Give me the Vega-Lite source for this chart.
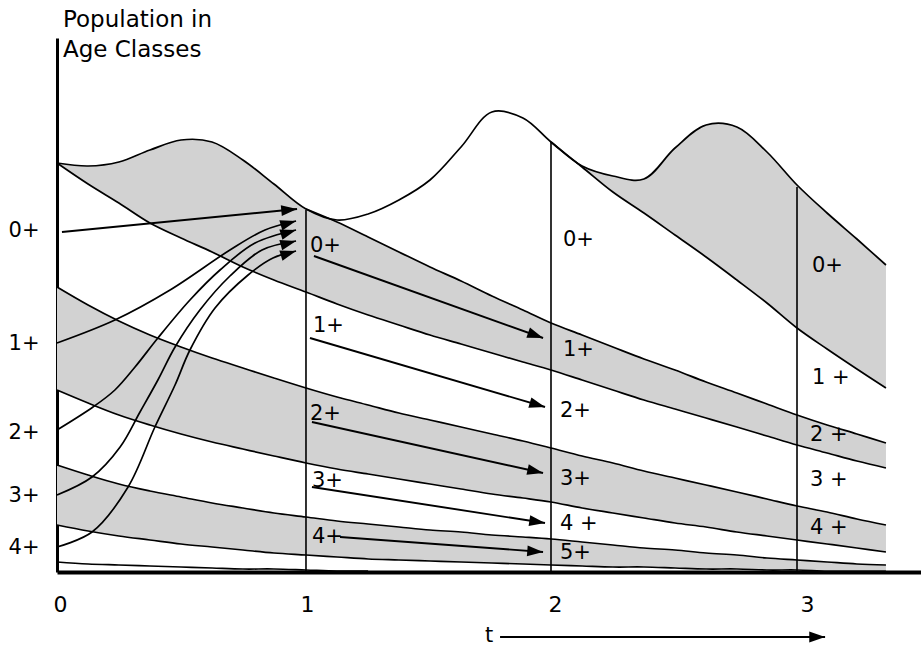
{
  "$schema": "https://vega.github.io/schema/vega-lite/v6.json",
  "width": 864,
  "height": 534,
  "autosize": {"type": "none"},
  "padding": {"left": 57, "top": 38, "right": 0, "bottom": 76},
  "background": "white",
  "config": {"view": {"stroke": null}, "font": "DejaVu Sans"},
  "datasets": {
    "grid": [
      {"t": 0, "env": 409, "n0": null, "n1": null, "k0": 409, "k1": 285, "k2": 182, "k3": 107, "k4": 47, "k5": 10},
      {"t": 0.125, "env": 406, "n0": null, "n1": null, "k0": 388, "k1": 267, "k2": 169, "k3": 97, "k4": 41, "k5": 8},
      {"t": 0.249, "env": 410, "n0": null, "n1": null, "k0": 369, "k1": 251, "k2": 157, "k3": 88, "k4": 36, "k5": 7},
      {"t": 0.374, "env": 422, "n0": null, "n1": null, "k0": 349, "k1": 237, "k2": 147, "k3": 81, "k4": 32, "k5": 6},
      {"t": 0.499, "env": 432, "n0": null, "n1": null, "k0": 334, "k1": 225, "k2": 138, "k3": 75, "k4": 28, "k5": 5},
      {"t": 0.624, "env": 430, "n0": null, "n1": null, "k0": 320, "k1": 214, "k2": 130, "k3": 69, "k4": 25, "k5": 4},
      {"t": 0.748, "env": 412, "n0": null, "n1": null, "k0": 305, "k1": 204, "k2": 123, "k3": 64, "k4": 22, "k5": 3},
      {"t": 0.873, "env": 388, "n0": null, "n1": null, "k0": 292, "k1": 194, "k2": 116, "k3": 59, "k4": 19, "k5": 3},
      {"t": 1.002, "env": 363, "n0": 363, "n1": null, "k0": 280, "k1": 184, "k2": 109, "k3": 55, "k4": 17, "k5": 2},
      {"t": 1.127, "env": 352, "n0": 350, "n1": null, "k0": 268, "k1": 175, "k2": 103, "k3": 51, "k4": 15, "k5": 1},
      {"t": 1.252, "env": 358, "n0": 335, "n1": null, "k0": 257, "k1": 167, "k2": 98, "k3": 48, "k4": 13, "k5": 1},
      {"t": 1.376, "env": 372, "n0": 320, "n1": null, "k0": 247, "k1": 159, "k2": 93, "k3": 45, "k4": 12, "k5": null},
      {"t": 1.501, "env": 392, "n0": 305, "n1": null, "k0": 237, "k1": 152, "k2": 88, "k3": 42, "k4": 11, "k5": null},
      {"t": 1.626, "env": 425, "n0": 291, "n1": null, "k0": 228, "k1": 145, "k2": 83, "k3": 40, "k4": 10, "k5": null},
      {"t": 1.75, "env": 460, "n0": 276, "n1": null, "k0": 219, "k1": 138, "k2": 78, "k3": 37, "k4": 9, "k5": null},
      {"t": 1.875, "env": 454, "n0": 262, "n1": null, "k0": 210, "k1": 131, "k2": 74, "k3": 35, "k4": 8, "k5": null},
      {"t": 1.988, "env": 430, "n0": 249, "n1": 430, "k0": 202, "k1": 124, "k2": 70, "k3": 33, "k4": 7, "k5": null},
      {"t": 2.113, "env": 406, "n0": 237, "n1": 405, "k0": 192, "k1": 116, "k2": 64, "k3": 30, "k4": 6, "k5": null},
      {"t": 2.237, "env": 396, "n0": 225, "n1": 380, "k0": 182, "k1": 109, "k2": 59, "k3": 27, "k4": 5, "k5": null},
      {"t": 2.362, "env": 393, "n0": 213, "n1": 359, "k0": 172, "k1": 101, "k2": 54, "k3": 24, "k4": 5, "k5": null},
      {"t": 2.487, "env": 424, "n0": 202, "n1": 337, "k0": 163, "k1": 94, "k2": 49, "k3": 22, "k4": 4, "k5": null},
      {"t": 2.612, "env": 447, "n0": 190, "n1": 315, "k0": 154, "k1": 87, "k2": 45, "k3": 19, "k4": 3, "k5": null},
      {"t": 2.736, "env": 445, "n0": 179, "n1": 292, "k0": 145, "k1": 80, "k2": 40, "k3": 17, "k4": 3, "k5": null},
      {"t": 2.857, "env": 420, "n0": 168, "n1": 269, "k0": 136, "k1": 73, "k2": 36, "k3": 14, "k4": 2, "k5": null},
      {"t": 2.978, "env": 387, "n0": 157, "n1": 244, "k0": 127, "k1": 66, "k2": 32, "k3": 12, "k4": 2, "k5": null},
      {"t": 3.099, "env": 359, "n0": 147, "n1": 223, "k0": 119, "k1": 60, "k2": 28, "k3": 10, "k4": 1, "k5": null},
      {"t": 3.219, "env": 333, "n0": 138, "n1": 203, "k0": 111, "k1": 53, "k2": 24, "k3": 8, "k4": 1, "k5": null},
      {"t": 3.336, "env": 307, "n0": 129, "n1": 184, "k0": 104, "k1": 47, "k2": 20, "k3": 7, "k4": 1, "k5": null}
    ],
    "curves": [
      {"id": "c1", "t": 0, "p": 229}, {"id": "c1", "t": 0.233, "p": 252}, {"id": "c1", "t": 0.455, "p": 282},
      {"id": "c1", "t": 0.696, "p": 322}, {"id": "c1", "t": 0.837, "p": 342}, {"id": "c1", "t": 0.962, "p": 351},
      {"id": "c2", "t": 0, "p": 142}, {"id": "c2", "t": 0.145, "p": 165}, {"id": "c2", "t": 0.233, "p": 182},
      {"id": "c2", "t": 0.314, "p": 205}, {"id": "c2", "t": 0.406, "p": 234}, {"id": "c2", "t": 0.535, "p": 272},
      {"id": "c2", "t": 0.656, "p": 302}, {"id": "c2", "t": 0.797, "p": 329}, {"id": "c2", "t": 0.962, "p": 342},
      {"id": "c3", "t": 0, "p": 77}, {"id": "c3", "t": 0.141, "p": 95}, {"id": "c3", "t": 0.254, "p": 125},
      {"id": "c3", "t": 0.334, "p": 160}, {"id": "c3", "t": 0.406, "p": 192}, {"id": "c3", "t": 0.475, "p": 225},
      {"id": "c3", "t": 0.575, "p": 262}, {"id": "c3", "t": 0.696, "p": 296}, {"id": "c3", "t": 0.825, "p": 322},
      {"id": "c3", "t": 0.962, "p": 331},
      {"id": "c4", "t": 0, "p": 25}, {"id": "c4", "t": 0.141, "p": 40}, {"id": "c4", "t": 0.286, "p": 85},
      {"id": "c4", "t": 0.394, "p": 145}, {"id": "c4", "t": 0.475, "p": 187}, {"id": "c4", "t": 0.535, "p": 222},
      {"id": "c4", "t": 0.636, "p": 264}, {"id": "c4", "t": 0.769, "p": 297}, {"id": "c4", "t": 0.869, "p": 314},
      {"id": "c4", "t": 0.962, "p": 321}
    ],
    "arrows": [
      {"t": 0.02, "p": 340, "t2": 0.966, "p2": 363},
      {"t": 1.034, "p": 316, "t2": 1.956, "p2": 234},
      {"t": 1.018, "p": 234, "t2": 1.964, "p2": 165},
      {"t": 1.026, "p": 150, "t2": 1.956, "p2": 99},
      {"t": 1.026, "p": 85, "t2": 1.964, "p2": 49},
      {"t": 1.139, "p": 35, "t2": 1.956, "p2": 20},
      {"t": 1.783, "p": -65, "t2": 3.091, "p2": -65}
    ],
    "heads": [
      {"t": 0.966, "p": 363, "ang": -5.6},
      {"t": 0.962, "p": 351, "ang": -16},
      {"t": 0.962, "p": 342, "ang": -17},
      {"t": 0.962, "p": 331, "ang": -15},
      {"t": 0.962, "p": 321, "ang": -17},
      {"t": 1.956, "p": 234, "ang": 19.7},
      {"t": 1.964, "p": 165, "ang": 16.4},
      {"t": 1.956, "p": 99, "ang": 12.5},
      {"t": 1.964, "p": 49, "ang": 8.8},
      {"t": 1.956, "p": 20, "ang": 4.2},
      {"t": 3.091, "p": -65, "ang": 0}
    ],
    "verticals": [
      {"t": 1.002, "p0": 0, "p1": 362},
      {"t": 1.988, "p0": 0, "p1": 430},
      {"t": 2.978, "p0": 0, "p1": 385}
    ],
    "labels": [
      {"t": 1.018, "p": 326, "text": "0+"},
      {"t": 1.03, "p": 246, "text": "1+"},
      {"t": 1.018, "p": 158, "text": "2+"},
      {"t": 1.026, "p": 91, "text": "3+"},
      {"t": 1.026, "p": 35, "text": "4+"},
      {"t": 2.036, "p": 332, "text": "0+"},
      {"t": 2.036, "p": 222, "text": "1+"},
      {"t": 2.024, "p": 161, "text": "2+"},
      {"t": 2.024, "p": 93, "text": "3+"},
      {"t": 2.024, "p": 48, "text": "4 +"},
      {"t": 2.024, "p": 19, "text": "5+"},
      {"t": 3.038, "p": 306, "text": "0+"},
      {"t": 3.038, "p": 194, "text": "1 +"},
      {"t": 3.03, "p": 137, "text": "2 +"},
      {"t": 3.03, "p": 92, "text": "3 +"},
      {"t": 3.03, "p": 44, "text": "4 +"},
      {"t": 1.722, "p": -64, "text": "t"}
    ],
    "title": [
      {"t": 0.024, "p": 552, "text": "Population in"},
      {"t": 0.024, "p": 522, "text": "Age Classes"}
    ]
  },
  "layer": [
    {
      "data": {"name": "grid"},
      "transform": [{"filter": "datum.t <= 1.002"}],
      "mark": {"type": "area", "fill": "#d2d2d2", "interpolate": "catmull-rom"},
      "encoding": {
        "x": {"field": "t", "type": "quantitative", "title": null,
              "scale": {"domain": [0, 3.477], "nice": false, "zero": false},
              "axis": {"values": [0.012, 1.006, 2.004, 3.018], "labelExpr": "format(datum.value, '.0f')",
                       "grid": false, "ticks": false, "domainWidth": 4, "domainColor": "black",
                       "labelFontSize": 22, "labelColor": "black", "labelPadding": 22, "labelFont": "DejaVu Sans"}},
        "y": {"field": "env", "type": "quantitative", "title": null,
              "scale": {"domain": [0, 534], "nice": false, "zero": false},
              "axis": {"values": [342, 229, 140, 77, 25],
                       "labelExpr": "datum.value == 342 ? '0+' : datum.value == 229 ? '1+' : datum.value == 140 ? '2+' : datum.value == 77 ? '3+' : '4+'",
                       "grid": false, "ticks": false, "domainWidth": 3, "domainColor": "black",
                       "labelFontSize": 21, "labelColor": "black", "labelPadding": 18, "labelFont": "DejaVu Sans"}},
        "y2": {"field": "k0"}
      }
    },
    {
      "data": {"name": "grid"},
      "transform": [{"filter": "datum.t >= 1.002"}],
      "mark": {"type": "area", "fill": "#d2d2d2", "interpolate": "catmull-rom"},
      "encoding": {
        "x": {"field": "t", "type": "quantitative", "title": null},
        "y": {"field": "n0", "type": "quantitative", "title": null},
        "y2": {"field": "k0"}
      }
    },
    {
      "data": {"name": "grid"},
      "mark": {"type": "area", "fill": "#d2d2d2", "interpolate": "catmull-rom"},
      "encoding": {
        "x": {"field": "t", "type": "quantitative", "title": null},
        "y": {"field": "k1", "type": "quantitative", "title": null},
        "y2": {"field": "k2"}
      }
    },
    {
      "data": {"name": "grid"},
      "mark": {"type": "area", "fill": "#d2d2d2", "interpolate": "catmull-rom"},
      "encoding": {
        "x": {"field": "t", "type": "quantitative", "title": null},
        "y": {"field": "k3", "type": "quantitative", "title": null},
        "y2": {"field": "k4"}
      }
    },
    {
      "data": {"name": "grid"},
      "transform": [{"filter": "datum.t >= 1.988"}],
      "mark": {"type": "area", "fill": "#d2d2d2", "interpolate": "catmull-rom"},
      "encoding": {
        "x": {"field": "t", "type": "quantitative", "title": null},
        "y": {"field": "env", "type": "quantitative", "title": null},
        "y2": {"field": "n1"}
      }
    },
    {
      "data": {"name": "grid"},
      "transform": [
        {"fold": ["env", "n0", "n1", "k0", "k1", "k2", "k3", "k4", "k5"], "as": ["curve", "p"]},
        {"filter": "datum.p != null"}
      ],
      "mark": {"type": "line", "color": "black", "strokeWidth": 1.7, "interpolate": "catmull-rom"},
      "encoding": {
        "x": {"field": "t", "type": "quantitative", "title": null},
        "y": {"field": "p", "type": "quantitative", "title": null},
        "detail": {"field": "curve"}
      }
    },
    {
      "data": {"name": "verticals"},
      "mark": {"type": "rule", "color": "black", "strokeWidth": 1.6},
      "encoding": {
        "x": {"field": "t", "type": "quantitative", "title": null},
        "y": {"field": "p0", "type": "quantitative", "title": null},
        "y2": {"field": "p1"}
      }
    },
    {
      "data": {"name": "curves"},
      "mark": {"type": "line", "color": "black", "strokeWidth": 1.7, "interpolate": "catmull-rom"},
      "encoding": {
        "x": {"field": "t", "type": "quantitative", "title": null},
        "y": {"field": "p", "type": "quantitative", "title": null},
        "detail": {"field": "id"}
      }
    },
    {
      "data": {"name": "arrows"},
      "mark": {"type": "rule", "color": "black", "strokeWidth": 1.9},
      "encoding": {
        "x": {"field": "t", "type": "quantitative", "title": null},
        "y": {"field": "p", "type": "quantitative", "title": null},
        "x2": {"field": "t2"},
        "y2": {"field": "p2"}
      }
    },
    {
      "data": {"name": "heads"},
      "mark": {"type": "point", "shape": "M0,0L-1,-0.34L-1,0.34Z", "filled": true, "fill": "black", "stroke": null, "opacity": 1, "size": 1000},
      "encoding": {
        "x": {"field": "t", "type": "quantitative", "title": null},
        "y": {"field": "p", "type": "quantitative", "title": null},
        "angle": {"field": "ang", "type": "quantitative", "scale": null}
      }
    },
    {
      "data": {"name": "labels"},
      "mark": {"type": "text", "align": "left", "baseline": "middle", "font": "DejaVu Sans", "fontSize": 21, "color": "black"},
      "encoding": {
        "x": {"field": "t", "type": "quantitative", "title": null},
        "y": {"field": "p", "type": "quantitative", "title": null},
        "text": {"field": "text"}
      }
    },
    {
      "data": {"name": "title"},
      "mark": {"type": "text", "align": "left", "baseline": "middle", "font": "DejaVu Sans", "fontSize": 23, "color": "black"},
      "encoding": {
        "x": {"field": "t", "type": "quantitative", "title": null},
        "y": {"field": "p", "type": "quantitative", "title": null},
        "text": {"field": "text"}
      }
    }
  ]
}
